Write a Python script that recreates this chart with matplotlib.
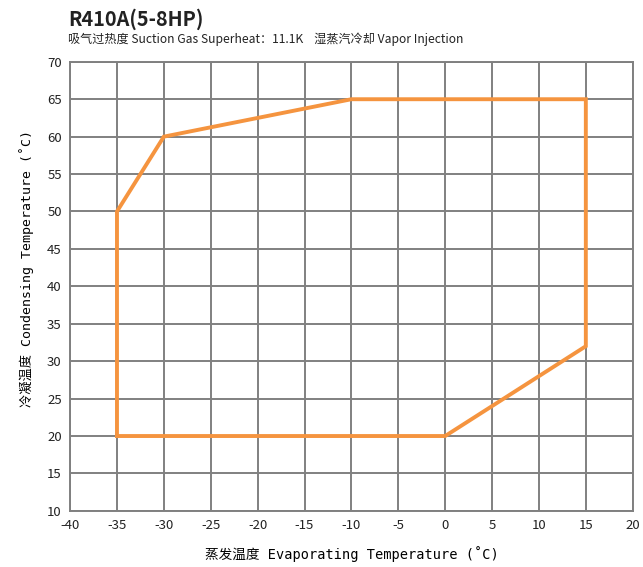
import matplotlib
matplotlib.use("Agg")
import matplotlib.pyplot as plt

plt.rcParams['font.family'] = ['Noto Sans CJK SC', 'DejaVu Sans']
plt.rcParams['axes.unicode_minus'] = False

# Operating envelope, R410A (5-8HP)
evap_temp = [-35, -35, -30, -10, 15, 15, 0, -35]
cond_temp = [20, 50, 60, 65, 65, 32, 20, 20]

x_ticks = list(range(-40, 21, 5))
y_ticks = list(range(10, 71, 5))

fig = plt.figure(figsize=(6.43, 5.67), dpi=100)
ax = fig.add_axes([0.109, 0.099, 0.875, 0.792])

ax.plot(evap_temp, cond_temp, color='#F5943F', linewidth=2.8, solid_joinstyle='miter', zorder=3)

ax.set_xlim(-40, 20)
ax.set_ylim(10, 70)
ax.set_xticks(x_ticks)
ax.set_yticks(y_ticks)
ax.grid(True, color='#808080', linewidth=1.4)
for s in ax.spines.values():
    s.set_color('#808080')
    s.set_linewidth(1.4)
ax.tick_params(length=0, labelsize=9.5, colors='#222222', pad=6)

label_font = ['DejaVu Sans Mono', 'Noto Sans CJK SC']
ax.set_xlabel('蒸发温度 Evaporating Temperature (˚C)', fontsize=9.8, labelpad=10,
              family=label_font)
ax.set_ylabel('冷凝温度 Condensing Temperature (˚C)', fontsize=9.5, family=label_font)
ax.yaxis.set_label_coords(-0.064, 0.54)

fig.text(0.106, 0.955, 'R410A(5-8HP)', fontsize=14.3, fontweight='bold', color='#222222')
fig.text(0.106, 0.925, '吸气过热度 Suction Gas Superheat：11.1K    湿蒸汽冷却 Vapor Injection',
         fontsize=8.7, color='#222222')

fig.savefig('out.png', dpi=100)
